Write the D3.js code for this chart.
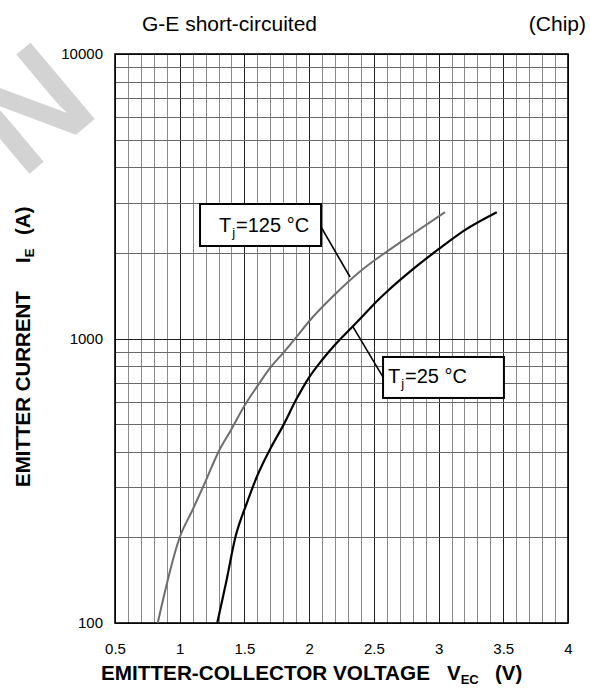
<!DOCTYPE html>
<html>
<head>
<meta charset="utf-8">
<script src="https://cdn.jsdelivr.net/npm/d3@7"></script>
<style>
  body { margin: 0; background: #fff; }
  svg { display: block; }
  text { font-family: "Liberation Sans", Arial, sans-serif; }
</style>
</head>
<body>
<svg id="chart" width="590" height="689"></svg>
<script>
// axis ticks
var xTicks = [0.5, 1, 1.5, 2, 2.5, 3, 3.5, 4];
var xTickLabels = ["0.5", "1", "1.5", "2", "2.5", "3", "3.5", "4"];
var yTicks = [100, 1000, 10000];
var yTickLabels = ["100", "1000", "10000"];

// Tj = 125 C (gray curve)
var vec125 = [0.83, 1.0, 1.1, 1.2, 1.3, 1.4, 1.5, 1.6, 1.7, 1.8, 1.9, 2.0, 2.2, 2.4, 2.6, 2.8, 3.05];
var ie125 = [100, 200, 250, 315, 400, 480, 580, 680, 790, 890, 1010, 1150, 1430, 1730, 2020, 2330, 2780];

// Tj = 25 C (black curve)
var vec25 = [1.29, 1.36, 1.43, 1.52, 1.6, 1.7, 1.8, 1.9, 2.0, 2.1, 2.2, 2.3, 2.4, 2.5, 2.6, 2.8, 3.0, 3.2, 3.45];
var ie25 = [100, 140, 200, 265, 330, 410, 495, 610, 730, 840, 950, 1060, 1180, 1320, 1460, 1750, 2060, 2400, 2780];

// curve labels (in data units: V, A)
var labelTemps = ["125", "25"];
var labelBoxV = [[1.157, 2.092], [2.571, 3.505]];
var labelBoxI = [[2970, 2114], [861, 618]];
var labelTextAt = [[1.303, 2367], [2.609, 698]];
var leaderFrom = [[2.092, 2466], [2.571, 732]];
var leaderTo = [[2.316, 1645], [2.339, 1098]];

var svg = d3.select("#chart");
var plotL = 115, plotR = 568, plotT = 54, plotB = 623;

var x = d3.scaleLinear().domain([0.5, 4]).range([plotL, plotR]);
var y = d3.scaleLog().domain([100, 10000]).range([plotB, plotT]);

// watermark, mostly hidden behind the plot
svg.append("text")
  .attr("transform", "translate(22,180) rotate(-40)")
  .attr("font-size", 145)
  .attr("font-weight", "bold")
  .attr("fill", "#d3d3d3")
  .text("N");

svg.append("rect")
  .attr("x", plotL).attr("y", plotT)
  .attr("width", plotR - plotL).attr("height", plotB - plotT)
  .attr("fill", "#fff");

// grid
var gridV = d3.range(5, 41).map(function(d) { return d / 10; });
var gridI = [];
[100, 1000].forEach(function(dec) {
  for (var k = 1; k < 10; k++) gridI.push(k * dec);
});
gridI.push(10000);

var isMajorV = function(d) { return Math.abs(d * 2 - Math.round(d * 2)) < 1e-6; };
var isMajorI = function(d) { return [100, 1000, 10000].indexOf(d) >= 0; };

var grid = svg.append("g").attr("shape-rendering", "crispEdges");
grid.selectAll(".gv").data(gridV).enter().append("line")
  .attr("x1", function(d) { return Math.round(x(d)) + 0.5; })
  .attr("x2", function(d) { return Math.round(x(d)) + 0.5; })
  .attr("y1", plotT).attr("y2", plotB)
  .attr("stroke", function(d) { return isMajorV(d) ? "#222" : "#8a8a8a"; })
  .attr("stroke-width", 1.2);
grid.selectAll(".gh").data(gridI).enter().append("line")
  .attr("y1", function(d) { return Math.round(y(d)) + 0.5; })
  .attr("y2", function(d) { return Math.round(y(d)) + 0.5; })
  .attr("x1", plotL).attr("x2", plotR)
  .attr("stroke", function(d) { return isMajorI(d) ? "#222" : "#6a6a6a"; })
  .attr("stroke-width", 1.2);

svg.append("rect")
  .attr("x", plotL).attr("y", plotT)
  .attr("width", plotR - plotL).attr("height", plotB - plotT)
  .attr("fill", "none").attr("stroke", "#000").attr("stroke-width", 1.6);

// axes (labels only)
var xAxis = d3.axisBottom(x).tickValues(xTicks)
  .tickFormat(function(d, i) { return xTickLabels[i]; })
  .tickSize(0).tickPadding(0);
var gx = svg.append("g").attr("transform", "translate(0," + plotB + ")").call(xAxis);
gx.select(".domain").remove();
gx.selectAll("text").attr("font-size", 15).attr("fill", "#000")
  .attr("dy", null).attr("y", 31);

var yAxis = d3.axisLeft(y).tickValues(yTicks)
  .tickFormat(function(d, i) { return yTickLabels[i]; })
  .tickSize(0).tickPadding(12);
var gy = svg.append("g")
  .attr("transform", "translate(" + plotL + ",0)").call(yAxis);
gy.select(".domain").remove();
gy.selectAll("text").attr("font-size", 15).attr("fill", "#000");

// curves
var line = d3.line()
  .x(function(d) { return x(d[0]); })
  .y(function(d) { return y(d[1]); })
  .curve(d3.curveMonotoneX);

svg.append("path")
  .datum(d3.zip(vec125, ie125))
  .attr("d", line)
  .attr("fill", "none").attr("stroke", "#6e6e6e").attr("stroke-width", 2);
svg.append("path")
  .datum(d3.zip(vec25, ie25))
  .attr("d", line)
  .attr("fill", "none").attr("stroke", "#000").attr("stroke-width", 2.2);

// curve labels
labelTemps.forEach(function(t, i) {
  svg.append("line")
    .attr("x1", x(leaderFrom[i][0])).attr("y1", y(leaderFrom[i][1]))
    .attr("x2", x(leaderTo[i][0])).attr("y2", y(leaderTo[i][1]))
    .attr("stroke", "#000").attr("stroke-width", 1.6);
  svg.append("rect")
    .attr("x", x(labelBoxV[i][0])).attr("y", y(labelBoxI[i][0]))
    .attr("width", x(labelBoxV[i][1]) - x(labelBoxV[i][0]))
    .attr("height", y(labelBoxI[i][1]) - y(labelBoxI[i][0]))
    .attr("fill", "#fff").attr("stroke", "#000").attr("stroke-width", 2);
  var tx = svg.append("text")
    .attr("x", x(labelTextAt[i][0])).attr("y", y(labelTextAt[i][1]))
    .attr("font-size", 20);
  tx.append("tspan").text("T");
  tx.append("tspan").attr("font-size", 13).attr("dy", 5).attr("dx", 1).text("j");
  tx.append("tspan").attr("dy", -5).attr("dx", 1).text("=" + t + " °C");
});

// titles
svg.append("text").attr("x", 142).attr("y", 31).attr("font-size", 21)
  .text("G-E short-circuited");
svg.append("text").attr("x", 586).attr("y", 31).attr("font-size", 21)
  .attr("text-anchor", "end").text("(Chip)");

var xt = svg.append("text").attr("y", 680).attr("font-size", 20.5)
  .attr("font-weight", "bold");
xt.append("tspan").attr("x", 101).attr("textLength", 329)
  .attr("lengthAdjust", "spacingAndGlyphs").text("EMITTER-COLLECTOR VOLTAGE");
xt.append("tspan").attr("x", 447).text("V");
xt.append("tspan").attr("font-size", 13).attr("dy", 4).text("EC");
xt.append("tspan").attr("x", 495).attr("dy", -4).text("(V)");

var yt = svg.append("text")
  .attr("transform", "translate(30,487) rotate(-90)")
  .attr("font-size", 20.5).attr("font-weight", "bold");
yt.append("tspan").attr("x", 0).text("EMITTER CURRENT");
yt.append("tspan").attr("x", 224).text("I");
yt.append("tspan").attr("font-size", 13).attr("dy", 4).text("E");
yt.append("tspan").attr("x", 252).attr("dy", -4).text("(A)");
</script>
</body>
</html>
